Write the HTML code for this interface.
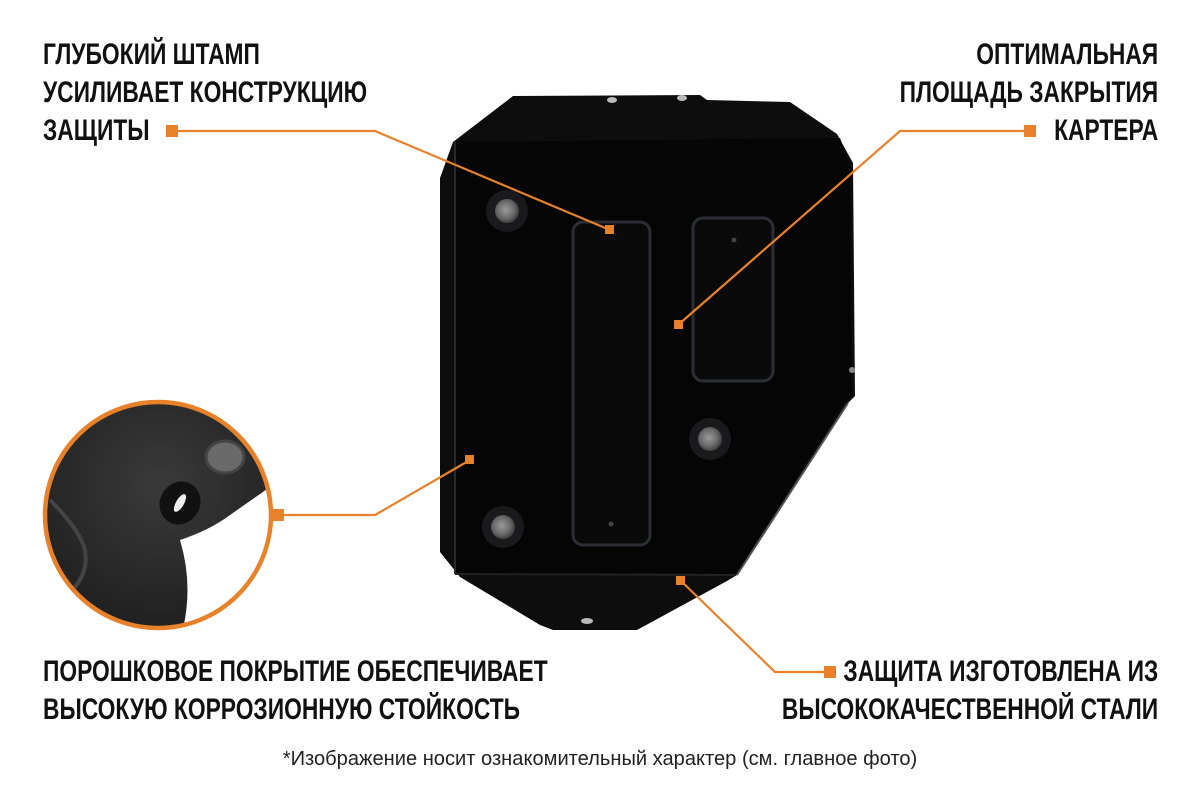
<!DOCTYPE html>
<html><head><meta charset="utf-8"><style>
html,body{margin:0;padding:0;background:#fff;}
body{width:1200px;height:799px;position:relative;overflow:hidden;font-family:"Liberation Sans",sans-serif;}
.t{position:absolute;font-weight:bold;font-size:30px;line-height:38px;color:#111;white-space:nowrap;transform:scaleX(0.76);transform-origin:left top;}
.r{text-align:right;transform-origin:right top;}
.f{position:absolute;left:0;width:1200px;top:747px;text-align:center;font-size:20.5px;color:#222;transform:scaleX(0.98);}
svg{position:absolute;left:0;top:0;}
</style></head><body>
<svg width="1200" height="799" viewBox="0 0 1200 799">
<defs>
<radialGradient id="bolt" cx="0.45" cy="0.45" r="0.6"><stop offset="0" stop-color="#9a9a9a"/><stop offset="0.6" stop-color="#6a6a6a"/><stop offset="1" stop-color="#333"/></radialGradient>
<radialGradient id="cg" cx="0.5" cy="0.35" r="0.7"><stop offset="0" stop-color="#3a3a3a"/><stop offset="1" stop-color="#1c1c1c"/></radialGradient>
<clipPath id="cc"><circle cx="158" cy="515" r="113"/></clipPath>
</defs>
<path d="M513,96 L700,95 L707,100 L790,102 L837,134 L853,163 L855,396 L848,403 L737,575 L727,581 L637,630 L553,630 L540,625 L460,577 L440,552 L440,178 L453,142 Z" fill="#0d0d0e"/>
<path d="M455,142 L840,138 L850,165 L852,395 L845,402 L735,575 L455,574 Z" fill="#050506"/>
<path d="M848,403 L737,575" stroke="#555" stroke-width="2"/>
<path d="M455,142 L455,574" stroke="#2a2a2c" stroke-width="2"/>
<path d="M455,574 L735,575" stroke="#222" stroke-width="2"/>
<rect x="573" y="222" width="77" height="323" rx="10" fill="#0a0a0b" stroke="#2c2e33" stroke-width="3"/>
<rect x="693" y="218" width="80" height="163" rx="10" fill="#0a0a0b" stroke="#2c2e33" stroke-width="3"/>
<circle cx="734" cy="240" r="2.5" fill="#444"/>
<circle cx="611" cy="524" r="2.5" fill="#444"/>
<g>
<circle cx="507" cy="211" r="21" fill="#1a1a1c"/><circle cx="507" cy="211" r="12" fill="url(#bolt)"/>
<circle cx="503" cy="527" r="21" fill="#1a1a1c"/><circle cx="503" cy="527" r="12" fill="url(#bolt)"/>
<circle cx="710" cy="439" r="21" fill="#1a1a1c"/><circle cx="710" cy="439" r="12" fill="url(#bolt)"/>
</g>
<ellipse cx="612" cy="100" rx="5" ry="3" fill="#bbb"/>
<ellipse cx="682" cy="98" rx="5" ry="3" fill="#bbb"/>
<ellipse cx="587" cy="621" rx="6" ry="3" fill="#bbb"/>
<circle cx="852" cy="370" r="3" fill="#888"/>
<g clip-path="url(#cc)">
<rect x="40" y="400" width="240" height="240" fill="url(#cg)"/>
<path d="M180,540 Q210,530 230,515 L280,480 L280,640 L180,640 Q195,590 180,540 Z" fill="#fff"/>
<path d="M50,500 Q80,530 85,550 Q90,580 60,600" stroke="#444" stroke-width="4" fill="none"/>
<ellipse cx="225" cy="457" rx="19" ry="16" fill="#6a6a6a" stroke="#444" stroke-width="3"/>
<ellipse cx="180" cy="503" rx="20" ry="22" fill="#111" transform="rotate(30 180 503)"/>
<ellipse cx="180" cy="503" rx="4" ry="10" fill="#eee" transform="rotate(30 180 503)"/>
</g>
<circle cx="158" cy="515" r="113" fill="none" stroke="#e8822a" stroke-width="4.5"/>
<g stroke="#e8822a" stroke-width="2.2" fill="none">
<polyline points="172,131 375,131 610,230"/>
<polyline points="1030,131 900,131 678,325"/>
<polyline points="278,515 375,515 470,460"/>
<polyline points="830,672 775,672 680,580"/>
</g>
<g fill="#e8822a">
<rect x="166" y="125" width="12" height="12"/>
<rect x="1024" y="125" width="12" height="12"/>
<rect x="272" y="509" width="12" height="12"/>
<rect x="824" y="666" width="12" height="12"/>
<rect x="605" y="225" width="9" height="9"/>
<rect x="674" y="320" width="9" height="9"/>
<rect x="465" y="455" width="9" height="9"/>
<rect x="676" y="576" width="9" height="9"/>
</g>
</svg>
<div class="t" style="left:43px;top:36px;">ГЛУБОКИЙ ШТАМП<br>УСИЛИВАЕТ КОНСТРУКЦИЮ<br>ЗАЩИТЫ</div>
<div class="t r" style="right:42px;top:36px;">ОПТИМАЛЬНАЯ<br>ПЛОЩАДЬ ЗАКРЫТИЯ<br>КАРТЕРА</div>
<div class="t" style="left:43px;top:653px;">ПОРОШКОВОЕ ПОКРЫТИЕ ОБЕСПЕЧИВАЕТ<br>ВЫСОКУЮ КОРРОЗИОННУЮ СТОЙКОСТЬ</div>
<div class="t r" style="right:42px;top:653px;">ЗАЩИТА ИЗГОТОВЛЕНА ИЗ</div>
<div class="t r" style="right:42px;top:691px;">ВЫСОКОКАЧЕСТВЕННОЙ СТАЛИ</div>
<div class="f">*Изображение носит ознакомительный характер (см. главное фото)</div>
</body></html>
